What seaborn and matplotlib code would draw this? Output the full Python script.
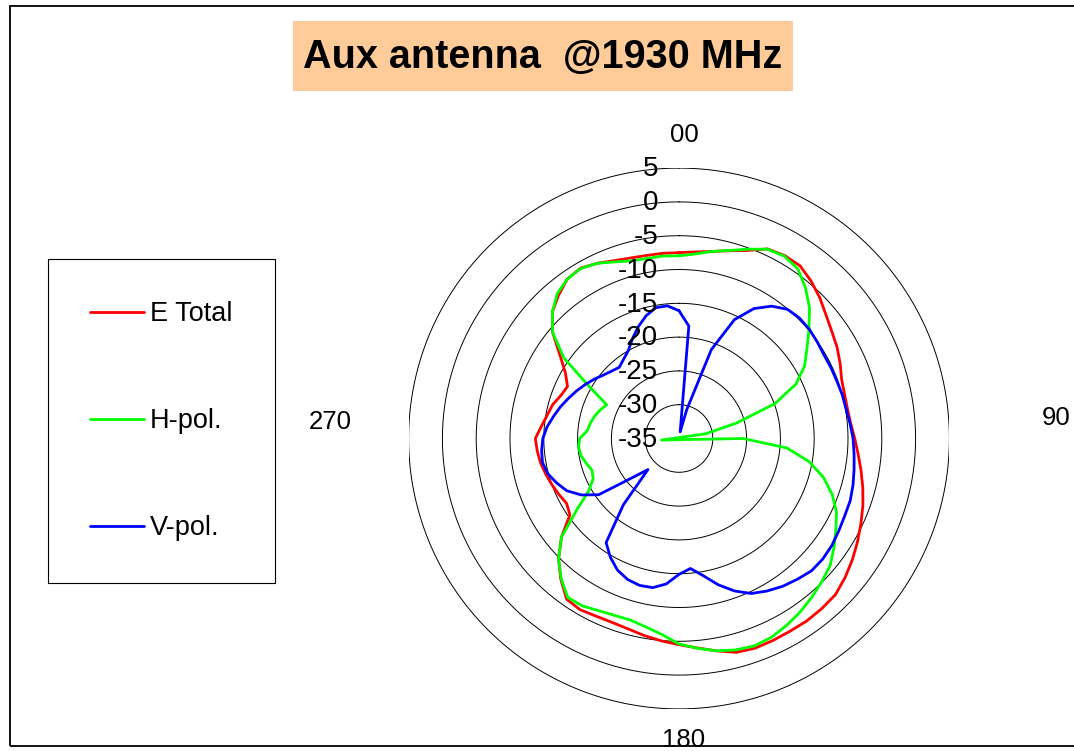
import numpy as np
import pandas as pd
import matplotlib
matplotlib.use("Agg")
import matplotlib.pyplot as plt
import seaborn as sns
from matplotlib.patches import Rectangle

# Measured radiation pattern (dB), sampled every 5 degrees, clockwise from 0
ANGLES = list(range(0, 360, 5))

E_TOTAL = [-7.5, -7.3, -6.9, -6.25, -5.4, -4.05, -3.75, -3.8, -4.6, -5.55,
           -6.6, -7.4, -8.0, -8.7, -9.4, -9.65, -9.7, -9.5, -9.0, -8.4,
           -7.65, -6.85, -6.05, -5.3, -4.5, -3.7, -2.95, -2.3, -2.15, -2.05,
           -2.1, -2.05, -2.0, -2.25, -3.1, -3.9, -4.5, -4.95, -5.4, -5.85,
           -6.05, -6.0, -5.75, -6.0, -7.8, -9.8, -12.3, -15.3, -15.8, -15.4,
           -15.0, -14.6, -14.2, -13.95, -13.75, -14.55, -15.2, -15.65, -16.4, -16.8,
           -15.6, -13.5, -10.6, -8.5, -7.3, -6.2, -5.9, -6.4, -7.0, -7.35,
           -7.5, -7.5]

H_POL = [-7.98, -7.6, -6.9, -6.2, -5.2, -4.1, -3.85, -4.35, -5.9, -7.7,
         -9.9, -11.9, -13.55, -15.9, -19.9, -26.2, -31.0, -37.6, -25.5, -19.0,
         -15.5, -12.9, -10.9, -9.3, -8.2, -7.0, -5.8, -5.1, -4.4, -3.7,
         -3.1, -2.58, -2.35, -2.62, -3.1, -3.85, -4.6, -5.9, -6.7, -7.2,
         -7.15, -6.9, -6.4, -6.3, -7.9, -9.8, -12.3, -16.5, -19.6, -21.0,
         -21.3, -20.8, -20.3, -20.1, -20.3, -21.4, -21.7, -22.1, -22.6, -23.2,
         -19.7, -14.2, -10.6, -8.5, -7.0, -6.2, -5.95, -6.4, -7.2, -7.8,
         -7.95, -7.9]

V_POL = [-16.1, -18.3, -34.0, -30.6, -21.0, -15.6, -12.8, -11.1, -10.05, -9.8,
         -9.85, -10.05, -10.25, -10.2, -10.15, -10.0, -9.9, -9.6, -9.25, -9.0,
         -8.7, -8.35, -8.05, -7.95, -7.7, -7.4, -7.25, -7.3, -7.8, -8.3,
         -8.95, -9.7, -11.0, -12.6, -14.4, -15.7, -14.9, -13.4, -12.6, -12.5,
         -12.8, -13.5, -14.7, -16.2, -22.2, -28.5, -26.0, -20.5, -18.3, -16.7,
         -15.75, -14.9, -14.5, -14.6, -14.85, -15.4, -16.15, -16.85, -17.6, -18.3,
         -19.0, -19.7, -20.4, -20.9, -21.25, -20.7, -20.0, -18.7, -17.4, -16.2,
         -15.35, -15.3]

SERIES = ["E Total", "H-pol.", "V-pol."]
COLORS = ["#FF0000", "#00FF00", "#0000FF"]
RING_VALUES = [5, 0, -5, -10, -15, -20, -25, -30, -35]
AXIS_MIN, AXIS_MAX = -35, 5
ANGLE_LABELS = ["00", "90", "180", "270"]
TITLE = "Aux antenna  @1930 MHz"

sns.set_theme(style="white")
plt.rcParams["font.family"] = ["Liberation Sans", "DejaVu Sans"]
plt.rcParams["text.color"] = "black"


def radar_xy(angle_deg, value):
    """Radar-chart projection: radius is measured from the axis minimum,
    so values below it pass through the centre to the opposite side."""
    r = np.asarray(value, dtype=float) - AXIS_MIN
    t = np.deg2rad(np.asarray(angle_deg, dtype=float))
    return r * np.sin(t), r * np.cos(t)


rows = []
for name, vals in zip(SERIES, [E_TOTAL, H_POL, V_POL]):
    a = ANGLES + [ANGLES[0] + 360]
    v = vals + [vals[0]]
    xs, ys = radar_xy(a, v)
    for i, (xi, yi) in enumerate(zip(xs, ys)):
        rows.append({"series": name, "step": i, "x": xi, "y": yi})
df = pd.DataFrame(rows)

W, H = 1074, 751
fig = plt.figure(figsize=(W / 100, H / 100), dpi=100)
fig.patch.set_facecolor("white")

# outer frame
fig.patches.append(Rectangle((10 / W, 1 - 746 / H), 1.2, 740 / H,
                             transform=fig.transFigure, fill=False,
                             edgecolor="black", linewidth=1.3, zorder=0))

# title on its shaded box
fig.patches.append(Rectangle((293 / W, 1 - 91 / H), 500 / W, 70 / H,
                             transform=fig.transFigure, facecolor="#FFCC99",
                             edgecolor="none", zorder=1))
fig.text(543 / W, 1 - 57 / H, TITLE, ha="center", va="center",
         fontsize=28.5, fontweight="bold", color="black", zorder=2)

# radar plot area
R = AXIS_MAX - AXIS_MIN
cx, cy, rad = 679 / W, 1 - 438.5 / H, 270.4
ax = fig.add_axes([cx - rad / W, cy - rad / H, 2 * rad / W, 2 * rad / H])

t = np.linspace(0, 2 * np.pi, 721)
for val in RING_VALUES:
    rr = val - AXIS_MIN
    if rr > 0:
        ax.plot(rr * np.sin(t), rr * np.cos(t), color="black", lw=0.7, zorder=1)

sns.lineplot(data=df, x="x", y="y", hue="series", hue_order=SERIES,
             palette=dict(zip(SERIES, COLORS)), sort=False, estimator=None,
             linewidth=2.0, ax=ax, zorder=3)
ax.set_xlim(-R, R)
ax.set_ylim(-R, R)
ax.axis("off")

for val in RING_VALUES:
    rr = val - AXIS_MIN
    ax.annotate(str(val), xy=(0, rr), xytext=(-15, -1), textcoords="offset points",
                ha="right", va="center", fontsize=20, color="black", zorder=4)

# direction labels
label_pos = [(0.74, 44.9), (55.8, 3.0), (0.74, -44.6), (-51.6, 2.4)]
for txt, (lx, ly) in zip(ANGLE_LABELS, label_pos):
    ax.text(lx, ly, txt, ha="center", va="center", fontsize=18.5, color="black")

handles, labels = ax.get_legend_handles_labels()
if ax.get_legend() is not None:
    ax.get_legend().remove()
leg = fig.legend(handles, labels, loc="upper left",
                 bbox_to_anchor=(48 / W, 1 - 259 / H), borderaxespad=0,
                 fontsize=19.5, frameon=True, fancybox=False, framealpha=1,
                 edgecolor="black", borderpad=1.55, labelspacing=3.0,
                 handlelength=2.0, handletextpad=0.22, labelcolor="black")
leg.get_frame().set_linewidth(0.8)
for ln in leg.get_lines():
    ln.set_linewidth(2.0)

fig.savefig("out.png", dpi=100)
